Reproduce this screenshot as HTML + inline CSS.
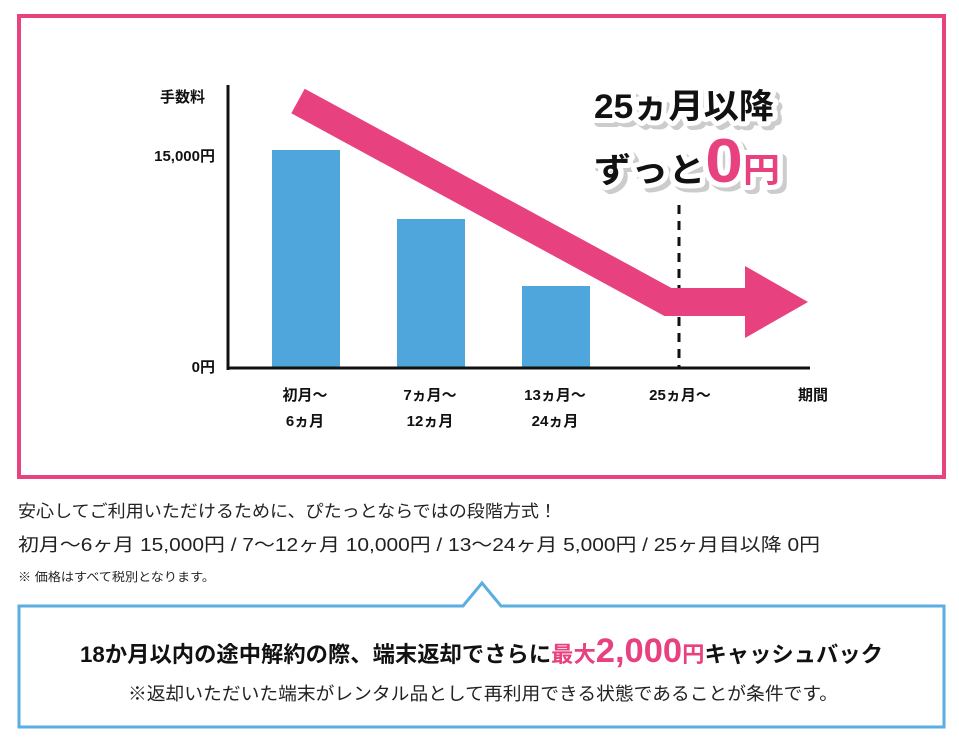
<!DOCTYPE html>
<html><head><meta charset="utf-8"><style>
body{margin:0;background:#fff;width:959px;height:747px;overflow:hidden}
svg{display:block}
text{font-family:"Liberation Sans","Noto Sans CJK JP",sans-serif}
</style></head><body>
<svg width="959" height="747" viewBox="0 0 959 747">
<rect x="19" y="16" width="925" height="461" fill="none" stroke="#e8427f" stroke-width="4"/>
<rect x="272" y="150" width="68" height="218" fill="#4ea6dc"/>
<rect x="397" y="219" width="68" height="149" fill="#4ea6dc"/>
<rect x="522" y="286" width="68" height="82" fill="#4ea6dc"/>
<line x1="228" y1="85" x2="228" y2="370" stroke="#111" stroke-width="3"/>
<line x1="227" y1="368" x2="810" y2="368" stroke="#111" stroke-width="3"/>
<line x1="679" y1="205" x2="679" y2="368" stroke="#111" stroke-width="3" stroke-dasharray="9,7"/>
<polyline points="298,101 668,302 748,302" fill="none" stroke="#e8417f" stroke-width="28" stroke-linejoin="miter"/>
<polygon points="745,266 808,302 745,338" fill="#e8417f"/>
<g font-weight="bold" fill="#111" font-size="15">
<text x="160" y="102">手数料</text>
<text x="215" y="161" text-anchor="end">15,000円</text>
<text x="215" y="372" text-anchor="end">0円</text>
<text x="305" y="400" text-anchor="middle">初月〜</text>
<text x="305" y="426" text-anchor="middle">6ヵ月</text>
<text x="430" y="400" text-anchor="middle">7ヵ月〜</text>
<text x="430" y="426" text-anchor="middle">12ヵ月</text>
<text x="555" y="400" text-anchor="middle">13ヵ月〜</text>
<text x="555" y="426" text-anchor="middle">24ヵ月</text>
<text x="680" y="400" text-anchor="middle">25ヵ月〜</text>
<text x="813" y="400" text-anchor="middle">期間</text>
</g>
<g font-weight="bold" font-size="34" stroke-linejoin="round">
<text x="594" y="118" fill="#ccc" stroke="#ccc" stroke-width="10" transform="translate(4,4)" textLength="180" lengthAdjust="spacingAndGlyphs">25ヵ月以降</text>
<text x="594" y="118" fill="#111" stroke="#fff" stroke-width="10" paint-order="stroke" textLength="180" lengthAdjust="spacingAndGlyphs">25ヵ月以降</text>
<text x="594" y="182" fill="#ccc" stroke="#ccc" stroke-width="10" transform="translate(4,4)" textLength="186" lengthAdjust="spacingAndGlyphs">ずっと<tspan font-size="62">0</tspan>円</text>
<text x="594" y="182" fill="#111" stroke="#fff" stroke-width="10" paint-order="stroke" textLength="186" lengthAdjust="spacingAndGlyphs">ずっと<tspan font-size="62" fill="#e8417f">0</tspan><tspan fill="#e8417f">円</tspan></text>
</g>
<g fill="#222">
<text x="18" y="517" font-size="17" textLength="539" lengthAdjust="spacingAndGlyphs">安心してご利用いただけるために、ぴたっとならではの段階方式！</text>
<text x="18" y="551" font-size="18" textLength="802" lengthAdjust="spacingAndGlyphs">初月〜6ヶ月 15,000円 / 7〜12ヶ月 10,000円 / 13〜24ヶ月 5,000円 / 25ヶ月目以降 0円</text>
<text x="18" y="581" font-size="12" textLength="197" lengthAdjust="spacingAndGlyphs">※ 価格はすべて税別となります。</text>
</g>
<path d="M19,606 H463 L482,583 L501,606 H944 V727 H19 Z" fill="#fff" stroke="#5aaee0" stroke-width="3"/>
<text x="80" y="662" font-size="22" font-weight="bold" fill="#111" textLength="803" lengthAdjust="spacingAndGlyphs">18か月以内の途中解約の際、端末返却でさらに<tspan fill="#e8417f">最大</tspan><tspan fill="#e8417f" font-size="34">2,000</tspan><tspan fill="#e8417f">円</tspan>キャッシュバック</text>
<text x="128" y="700" font-size="18" fill="#222" textLength="710" lengthAdjust="spacingAndGlyphs">※返却いただいた端末がレンタル品として再利用できる状態であることが条件です。</text>
</svg>
</body></html>
